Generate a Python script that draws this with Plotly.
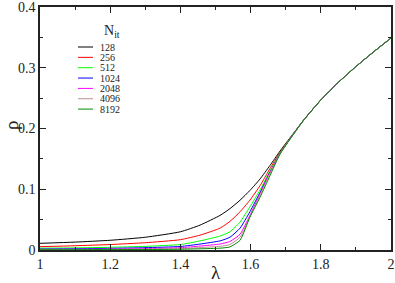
import plotly.graph_objects as go

lam = [1.0, 1.1, 1.2, 1.3, 1.4, 1.456, 1.513, 1.541, 1.570, 1.598, 1.627, 1.655, 1.684,
       1.75, 1.8, 1.85, 1.9, 1.95, 2.0]

tail = [0.213, 0.247, 0.276, 0.302, 0.326, 0.349]

rho_128 = [0.011, 0.013, 0.016, 0.021, 0.030, 0.041, 0.057, 0.068, 0.082, 0.098, 0.117, 0.139, 0.163] + tail
rho_256 = [0.0055, 0.007, 0.009, 0.012, 0.017, 0.0245, 0.036, 0.047, 0.063, 0.082, 0.106, 0.134, 0.161] + tail
rho_512 = [0.003, 0.0035, 0.0045, 0.006, 0.009, 0.015, 0.023, 0.030, 0.046, 0.071, 0.099, 0.130, 0.160] + tail
rho_1024 = [0.0015, 0.002, 0.0027, 0.0038, 0.0058, 0.0098, 0.015, 0.021, 0.036, 0.063, 0.095, 0.128, 0.159] + tail
rho_2048 = [0.001, 0.0012, 0.0016, 0.0023, 0.0038, 0.0065, 0.0098, 0.014, 0.026, 0.057, 0.093, 0.127, 0.159] + tail
rho_4096 = [0.0006, 0.0007, 0.001, 0.0014, 0.0023, 0.004, 0.006, 0.009, 0.021, 0.055, 0.090, 0.126, 0.159] + tail
rho_8192 = [0.0003, 0.0004, 0.0006, 0.0008, 0.0012, 0.002, 0.003, 0.005, 0.016, 0.054, 0.087, 0.122, 0.158] + tail

names = ["128", "256", "512", "1024", "2048", "4096", "8192"]
series = [rho_128, rho_256, rho_512, rho_1024, rho_2048, rho_4096, rho_8192]
colors = ["#000000", "#ff0000", "#00ff00", "#0000ff", "#ff00ff", "#bc8f8f", "#008b00"]

x_ticks = [1.0, 1.2, 1.4, 1.6, 1.8, 2.0]
y_ticks = [0.0, 0.1, 0.2, 0.3, 0.4]

fig = go.Figure()
for nm, ys, c in zip(names, series, colors):
    fig.add_trace(go.Scatter(x=lam, y=ys, mode="lines", name=nm,
                             line=dict(color=c, width=1, shape="spline", smoothing=0.5),
                             showlegend=False))

FONT = "Liberation Serif"
axis_common = dict(showline=True, linecolor="#222", linewidth=1.5, mirror="allticks",
                   ticks="inside", ticklen=6, tickwidth=1, tickcolor="#222",
                   showgrid=False, zeroline=False, automargin=False,
                   ticklabeloverflow="allow",
                   tickfont=dict(family=FONT, size=14, color="#222"))

fig.update_xaxes(range=[1, 2], tickvals=x_ticks, ticktext=[f"{v:g}" for v in x_ticks],
                 minor=dict(dtick=0.1, ticklen=3, ticks="inside", tickcolor="#222"),
                 title=dict(text="λ", font=dict(family=FONT, size=19, color="#222"), standoff=2),
                 **axis_common)
fig.update_yaxes(range=[0, 0.4001], tickvals=y_ticks, ticktext=[f"{v:g}" for v in y_ticks],
                 minor=dict(dtick=0.05, ticklen=3, ticks="inside", tickcolor="#222"),
                 **axis_common)

L, R, T, B = 40, 4, 7, 33
W, H = 395, 283
pw, ph = W - L - R, H - T - B

def px(x):
    return (x - L) / pw

def py(y):
    return (H - B - y) / ph

# y-axis title
fig.add_annotation(xref="paper", yref="paper", x=px(11), y=py(126), text="ρ",
                   showarrow=False, textangle=-90, xanchor="center", yanchor="middle",
                   font=dict(family=FONT, size=19, color="#222"))

# legend drawn in paper coordinates
for i, (nm, c) in enumerate(zip(names, colors)):
    yy = 47 + i * 10.35
    fig.add_shape(type="line", xref="paper", yref="paper",
                  x0=px(78), x1=px(93), y0=py(yy), y1=py(yy),
                  line=dict(color=c, width=1))
    fig.add_annotation(xref="paper", yref="paper", x=px(98), y=py(yy), text=nm,
                       showarrow=False, xanchor="left", yanchor="middle",
                       font=dict(family=FONT, size=10, color="#222"))
fig.add_annotation(xref="paper", yref="paper", x=px(102), y=py(31),
                   text="N<sub>it</sub>", showarrow=False, xanchor="left", yanchor="middle",
                   font=dict(family=FONT, size=14, color="#222"))

fig.update_layout(width=W, height=H, margin=dict(l=L, r=R, t=T, b=B, autoexpand=False),
                  paper_bgcolor="white", plot_bgcolor="white",
                  font=dict(family=FONT))
fig.write_html("out.html", config={"displayModeBar": False},
               post_script="document.body.style.margin='0';")
